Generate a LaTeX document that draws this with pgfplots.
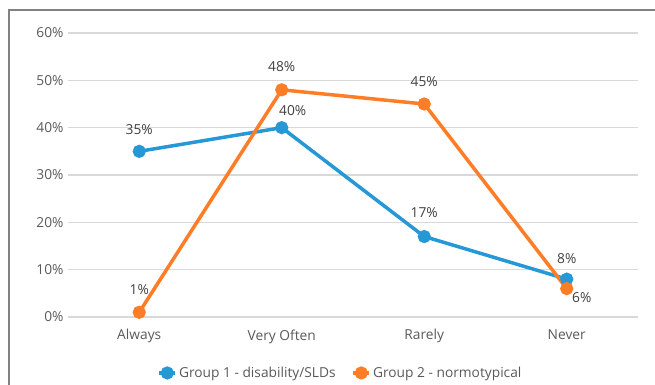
\documentclass[border=0pt]{standalone}
\usepackage{pgfplots}
\pgfplotsset{compat=1.18}
\usepackage{pgfplotstable}
\usepackage{fontspec}
\setmainfont{Open Sans}

\definecolor{gblue}{RGB}{38,152,214}
\definecolor{gorange}{RGB}{255,125,38}
\definecolor{gridgray}{RGB}{217,217,217}
\definecolor{ticktext}{RGB}{89,89,89}
\definecolor{labeltext}{RGB}{64,64,64}
\definecolor{framegray}{RGB}{130,130,130}

% x y label-offset-x label-offset-y
\pgfplotstableread{
x y dx dy
0 35 0 22
1 40 11 17
2 17 0 24
3 8 0 21
}\groupone
\pgfplotstableread{
x y dx dy
0 1 0 23
1 48 0 23
2 45 0 22
3 6 15 -9
}\grouptwo

\begin{document}
\begin{tikzpicture}
\useasboundingbox (-68bp,-68bp) rectangle (587bp,317bp);
\draw[framegray, line width=1.2bp] (-59bp,-70bp) -- (-59bp,307bp) -- (590bp,307bp);
\begin{axis}[
  at={(0,0)}, anchor=south west,
  scale only axis,
  width=570bp, height=284bp,
  xmin=-0.5, xmax=3.5,
  ymin=0, ymax=60,
  xtick={0,1,2,3},
  xticklabels={Always,Very Often,Rarely,Never},
  ytick={0,10,...,60},
  yticklabel={\pgfmathprintnumber{\tick}\%},
  /pgf/number format/assume math mode=true,
  ymajorgrids,
  grid style={gridgray, line width=1.3bp},
  axis line style={draw=none},
  major tick length=0pt,
  tick label style={font=\fontsize{13.8}{16}\selectfont, text=ticktext},
  yticklabel style={xshift=-1bp},
  xticklabel style={yshift=-9bp},
  clip=false,
  legend columns=2,
  legend style={draw=none, fill=none, at={(0.478,-0.197)}, anchor=center,
    font=\fontsize{13.8}{16}\selectfont, text=ticktext,
    /tikz/every even column/.append style={column sep=14bp}},
  legend image code/.code={
    \draw[mark repeat=2, mark phase=2] plot coordinates {(0bp,0bp) (8bp,0bp) (16bp,0bp)};},
  nodes near coords={\pgfmathprintnumber{\pgfplotspointmeta}\%},
  point meta=explicit,
  visualization depends on={\thisrow{dx} \as \dx},
  visualization depends on={\thisrow{dy} \as \dy},
  every node near coord/.append style={anchor=center, xshift=\dx bp, yshift=\dy bp,
    font=\fontsize{13.8}{16}\selectfont, text=labeltext},
]
\addplot[gblue, line width=3.5bp, mark=*, mark size=4.8bp, mark options={solid}]
  table[x=x, y=y, meta=y] {\groupone};
\addlegendentry{Group 1 - disability/SLDs}
\addplot[gorange, line width=3.5bp, mark=*, mark size=4.8bp, mark options={solid}]
  table[x=x, y=y, meta=y] {\grouptwo};
\addlegendentry{Group 2 - normotypical}
\end{axis}
\end{tikzpicture}
\end{document}
